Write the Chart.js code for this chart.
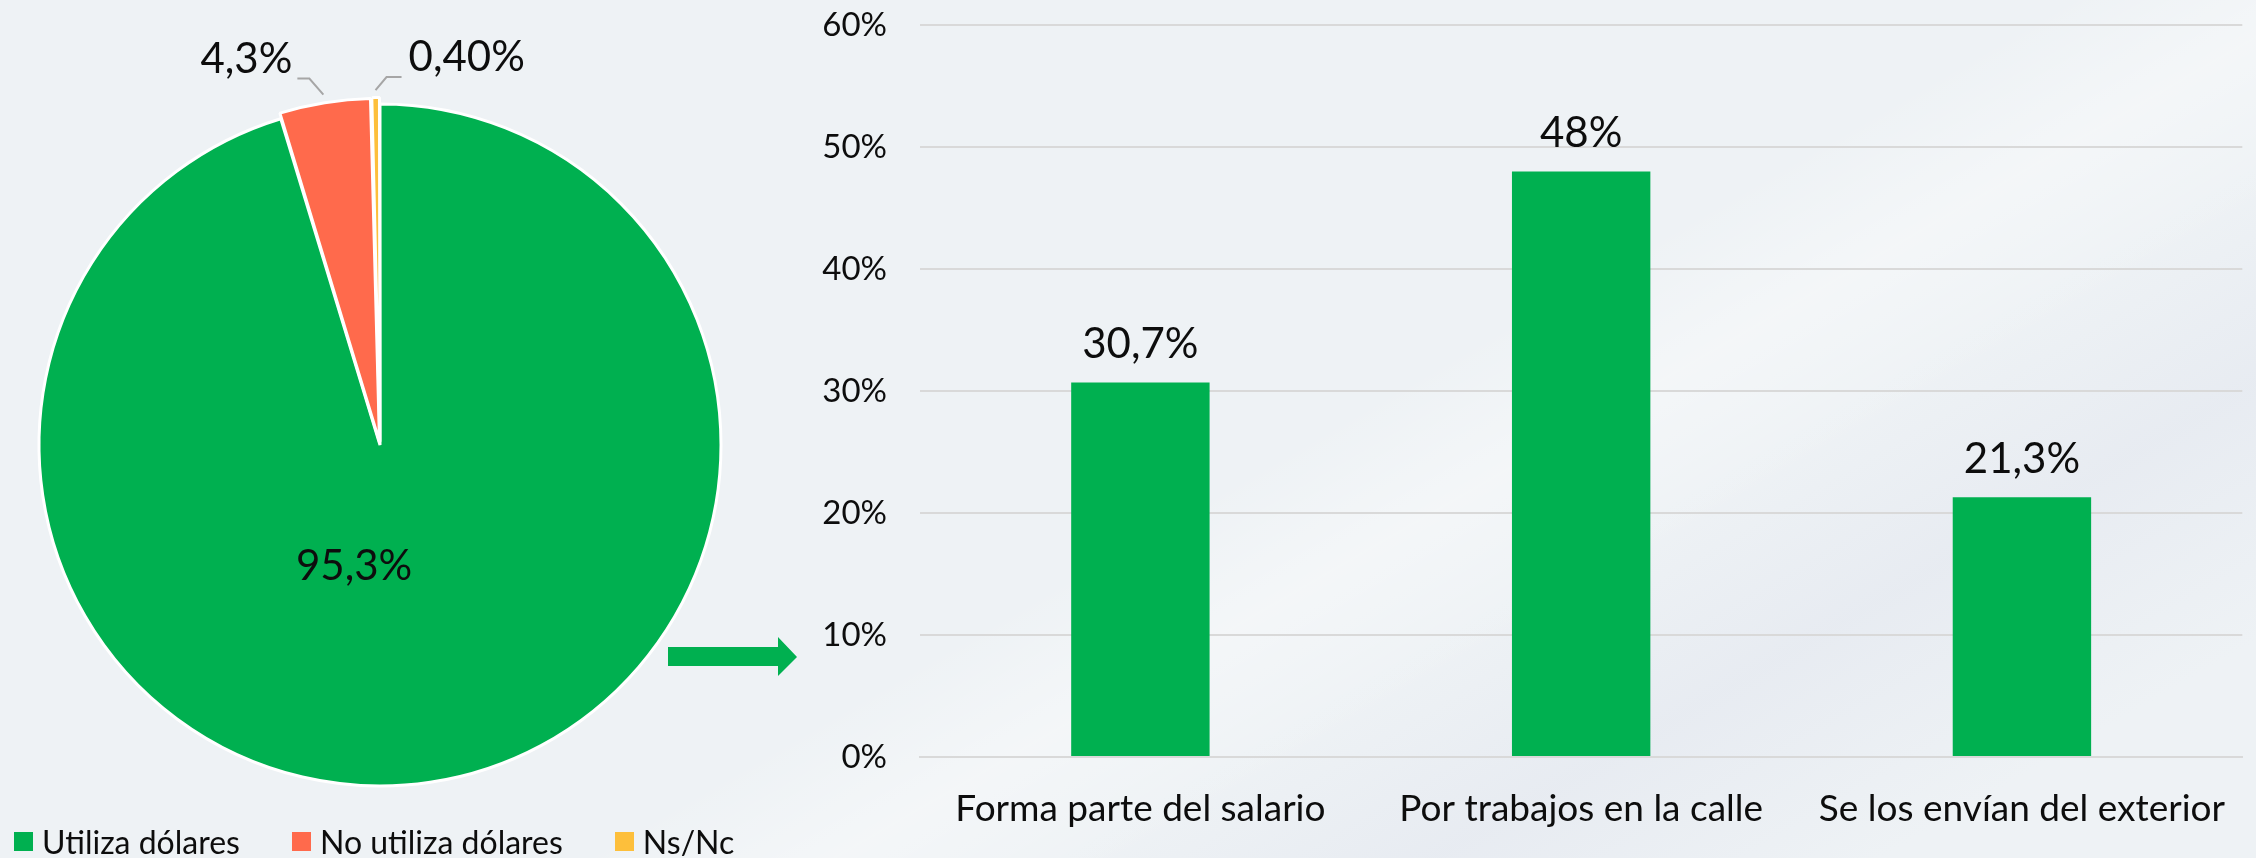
<!DOCTYPE html>
<html>
<head>
<meta charset="utf-8">
<script src="https://cdn.jsdelivr.net/npm/chart.js@4.4.1/dist/chart.umd.min.js"></script>
<style>
    html, body { margin: 0; padding: 0; }
    body {
        width: 2256px; height: 858px; overflow: hidden; position: relative;
        font-family: Lato, sans-serif;
        background:
            linear-gradient(150deg, rgba(255,255,255,0) 55%, rgba(255,255,255,0.35) 62%, rgba(255,255,255,0) 70%),
            linear-gradient(150deg, rgba(225,229,238,0) 68%, rgba(225,229,238,0.5) 78%, rgba(225,229,238,0) 90%),
            #eef2f5;
    }
    #pie-box { position: absolute; left: 0; top: 0; width: 760px; height: 858px; }
    #bar-box { position: absolute; left: 800px; top: 0; width: 1456px; height: 858px; }
    #arrow { position: absolute; left: 668px; top: 637px; }
    #legend {
        position: absolute; left: 14px; top: 822px;
        display: flex; gap: 52px; font-size: 32px; color: #0d0d0d;
    }
    #legend .item { display: flex; align-items: center; white-space: nowrap; }
    #legend .sw { width: 19px; height: 19px; margin-right: 9px; }
</style>
</head>
<body>
<div id="pie-box"><canvas id="chart-pie"></canvas></div>
<div id="bar-box"><canvas id="chart-bar"></canvas></div>
<svg id="arrow" width="132" height="40" viewBox="0 0 132 40">
    <polygon points="0,10 110,10 110,0 129,20 110,39 110,29 0,29" fill="#00b050"/>
</svg>
<div id="legend"></div>

<script>
// --- data
const pieCategories = ["Utiliza dólares", "No utiliza dólares", "Ns/Nc"];
const pieValues     = [95.3, 4.3, 0.4];
const pieColors     = ["#00b050", "#ff6a4c", "#fdbf3b"];

const barCategories = ["Forma parte del salario", "Por trabajos en la calle", "Se los envían del exterior"];
const barValues     = [30.7, 48, 21.3];
const yTicks        = [0, 10, 20, 30, 40, 50, 60];

const TEXT = "#0d0d0d";
const GRID = "#d9d9d9";

Chart.defaults.font.family = "Lato";
Chart.defaults.color = TEXT;
Chart.defaults.animation = false;

function fmt(v) {
    const s = v < 1 ? v.toFixed(2) : String(v);
    return s.replace(".", ",") + "%";
}

// pie: inner label for the big slice, leader lines for the small ones
const pieLabels = {
    id: "pieLabels",
    afterDatasetsDraw(chart) {
        const ctx = chart.ctx;
        const meta = chart.getDatasetMeta(0);
        const last = meta.data.length - 1;
        ctx.save();
        ctx.font = "42px Lato";
        ctx.fillStyle = TEXT;
        ctx.textBaseline = "alphabetic";
        meta.data.forEach((arc, i) => {
            const p = arc.getProps(["x", "y", "startAngle", "endAngle", "outerRadius"], true);
            const text = fmt(pieValues[i]);
            if (i === 0) {
                ctx.textAlign = "center";
                ctx.fillText(text, p.x - 0.076 * p.outerRadius, p.y + 0.396 * p.outerRadius);
                return;
            }
            const mid = (p.startAngle + p.endAngle) / 2;
            const r = p.outerRadius + (arc.options.offset || 0) + 1;
            const sx = p.x + Math.cos(mid) * r;
            const sy = p.y + Math.sin(mid) * r;
            const right = i === last;
            const ex = sx + (right ? 11 : -14);
            const ey = sy + (right ? -13 : -16);
            const hx = ex + (right ? 15 : -12);
            ctx.strokeStyle = "#a6a6a6";
            ctx.lineWidth = 2;
            ctx.beginPath();
            ctx.moveTo(sx, sy);
            ctx.lineTo(ex, ey);
            ctx.lineTo(hx, ey);
            ctx.stroke();
            ctx.textAlign = right ? "left" : "right";
            ctx.fillText(text, hx + (right ? 7 : -5), ey - 6);
        });
        ctx.restore();
    },
};

// bar: value above every bar
const barLabels = {
    id: "barLabels",
    afterDatasetsDraw(chart) {
        const ctx = chart.ctx;
        ctx.save();
        ctx.font = "42px Lato";
        ctx.fillStyle = TEXT;
        ctx.textAlign = "center";
        ctx.textBaseline = "alphabetic";
        chart.getDatasetMeta(0).data.forEach((bar, i) => {
            ctx.fillText(fmt(barValues[i]), bar.x, bar.y - 24);
        });
        ctx.restore();
    },
};

new Chart(document.querySelector("#chart-pie"), {
    type: "pie",
    data: {
        labels: pieCategories,
        datasets: [{
            data: pieValues,
            backgroundColor: pieColors,
            borderColor: "#ffffff",
            borderWidth: 3,
            offset: [0, 13, 13],
            radius: 341,
        }],
    },
    options: {
        responsive: true,
        maintainAspectRatio: false,
        layout: { padding: { top: 32 } },
        events: [],
        plugins: { legend: { display: false }, tooltip: { enabled: false } },
    },
    plugins: [pieLabels],
});

new Chart(document.querySelector("#chart-bar"), {
    type: "bar",
    data: {
        labels: barCategories,
        datasets: [{
            data: barValues,
            backgroundColor: "#00b050",
            barPercentage: 0.314,
            categoryPercentage: 1,
        }],
    },
    options: {
        responsive: true,
        maintainAspectRatio: false,
        layout: { padding: { top: 0, right: 6, left: 0, bottom: 0 } },
        events: [],
        plugins: { legend: { display: false }, tooltip: { enabled: false } },
        scales: {
            x: {
                grid: { display: false, drawTicks: false },
                border: { display: true, color: GRID, width: 2 },
                ticks: { font: { size: 37 }, padding: 30, color: TEXT },
                afterFit: (s) => { s.height = 101; },
            },
            y: {
                min: yTicks[0],
                max: yTicks[yTicks.length - 1],
                afterBuildTicks: (s) => { s.ticks = yTicks.map(v => ({ value: v })); },
                grid: { color: GRID, lineWidth: 2, drawTicks: false },
                border: { display: false },
                ticks: { font: { size: 33 }, padding: 33, color: TEXT, callback: v => v + "%" },
                afterFit: (s) => {
                    s.width = 120;
                    s.paddingTop = 25;   // 60% line sits 25px from the top
                    s.paddingBottom = 0;
                },
            },
        },
    },
    plugins: [barLabels],
});

// legend from the pie arrays
const legend = document.querySelector("#legend");
pieCategories.forEach((name, i) => {
    const item = document.createElement("div");
    item.className = "item";
    const sw = document.createElement("span");
    sw.className = "sw";
    sw.style.background = pieColors[i];
    item.appendChild(sw);
    item.appendChild(document.createTextNode(name));
    legend.appendChild(item);
});
</script>
</body>
</html>
